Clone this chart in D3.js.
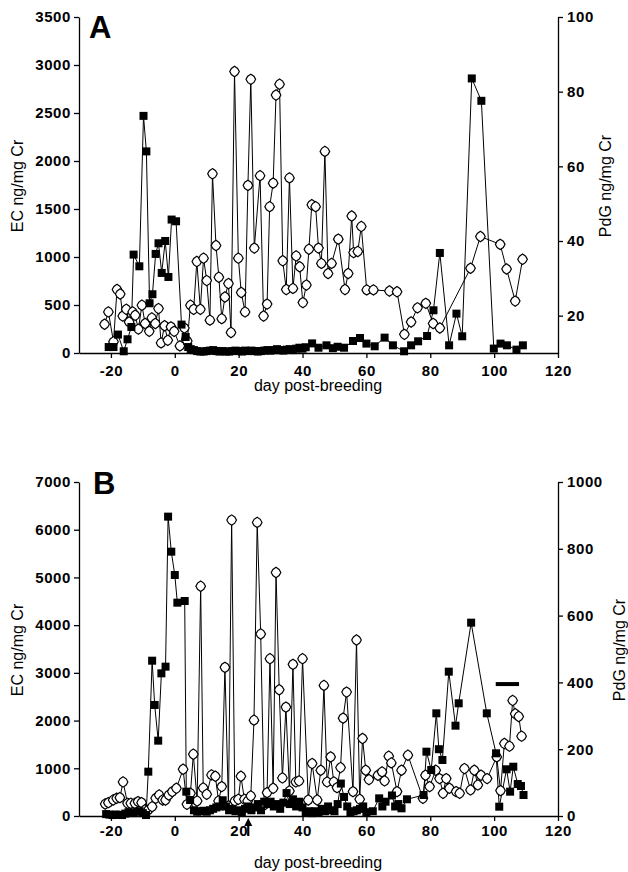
<!DOCTYPE html>
<html><head><meta charset="utf-8">
<script src="https://cdn.jsdelivr.net/npm/d3@7"></script>
<style>
html,body{margin:0;padding:0;background:#fff;}
svg{display:block;}
text{font-family:"Liberation Sans",Arial,sans-serif;fill:#000;}
</style></head><body>
<svg id="c" width="628" height="872"></svg>
<script>
// ---------- data ----------
const xTicks = [-20, 0, 20, 40, 60, 80, 100, 120];
const aEcTicks = [0, 500, 1000, 1500, 2000, 2500, 3000, 3500];
const aPdgTicks = [20, 40, 60, 80, 100];
const bEcTicks = [0, 1000, 2000, 3000, 4000, 5000, 6000, 7000];
const bPdgTicks = [0, 200, 400, 600, 800, 1000];

// Panel A: EC (filled squares, left axis) [day, ng/mg Cr]
const aEc = [[-20.7,62],[-19.2,62],[-17.8,192],[-16,18],[-14.8,143],[-13.6,271],[-12.9,1025],[-11.1,903],[-9.8,2470],[-8.9,2100],
 [-7.9,518],[-7,612],[-6,1032],[-5.1,1143],[-4.1,834],[-3,1167],[-2,792],[-1,1390],[0.4,1372],[2.1,296],[3.4,167],[4.2,62],
 [5,40],[6,30],[7,20],[8,15],[9,15],[10,20],[11,25],[12,30],[13,20],[14,15],[15,20],[16,15],[17,15],[18,20],[19,25],[20,20],
 [21,15],[22,25],[23,20],[24,25],[25,20],[26,15],[27,20],[28,25],[29,30],[30,25],[31,30],[32,40],[33,30],[34,25],[35,35],[36,40],
 [37,30],[38,45],[39,55],[40,45],[41,60],[43,100],[45,55],[47.5,80],[49.5,50],[51,65],[53,55],[55.8,125],[58,156],[60,98],
 [62.6,70],[65.7,160],[68.3,80],[71.8,18],[74,80],[76.2,122],[79,177],[81,445],[83,1042],[85.9,80],[88.2,410],[90,174],
 [93,2860],[96,2627],[99.9,46],[102,98],[104,80],[107,35],[109,80]];
// Panel A: PdG (open diamonds, right axis)
const aPdg = [[-22,17.7],[-20.8,21],[-19.2,13],[-18.1,27],[-17.1,25.8],[-16.3,19.9],[-15.2,21.7],[-14.3,18.3],[-13.2,21],[-12.4,20.1],
 [-11.4,16.4],[-10.3,22.8],[-9.3,17.9],[-8,15.8],[-7.2,19.4],[-6.1,17.9],[-5.1,21.9],[-4.3,12.7],[-3.2,17.3],[-2.2,13.4],[-1.2,17],
 [-0.2,15.8],[1.6,11.9],[3,16.7],[3.9,13.2],[4.9,22.8],[5.9,21.7],[6.9,34.5],[8,21.7],[9,35.4],[10,29.4],[11,18.8],[11.8,58],
 [12.9,38.8],[13.8,30.3],[14.7,19.2],[15.7,25],[16.8,28.6],[17.6,15.5],[18.7,85.4],[19.9,35.4],[20.8,26.2],[22,21],[22.9,54.9],
 [23.8,83.3],[24.9,38.1],[26.7,57.5],[27.8,19.9],[28.9,23.1],[29.7,49.2],[30.8,55.5],[31.7,79.1],[32.8,82],[33.8,34.7],[34.9,27],
 [35.9,56.9],[37,27.3],[38,36],[39.1,33.1],[40.1,23.5],[41.2,28.2],[42,37.8],[42.9,49.7],[44.1,49.2],[45,38.1],[45.9,34],[47,64],
 [48,31.3],[49.1,34],[51.2,40.5],[53.3,27],[54.3,31.3],[55.4,46.7],[56,36.9],[57.3,37.2],[58.4,43.9],[60.1,26.9],[62.2,26.9],
 [67.2,26.6],[69.6,26.4],[71.9,15],[74,18.3],[76,22.1],[78.6,23.3],[80.9,17.9],[83,16.7],[92.6,32.7],[95.7,41.2],[101.9,39.1],
 [103.9,32.5],[106.6,23.9],[108.9,35.1]];

// Panel B: EC (filled squares, left axis)
const bEc = [[-21.5,40],[-20.5,30],[-19.5,20],[-18.5,30],[-17.5,25],[-16.5,20],[-15.5,50],[-14.5,80],[-13,60],[-12,90],[-11,100],
 [-10,60],[-9,20],[-8.3,929],[-7.1,3255],[-6.3,2327],[-5.2,1579],[-4.2,2990],[-2.9,3130],[-2.1,6274],[-1.1,5540],[0,5051],
 [0.8,4471],[3.1,4506],[3.6,510],[4.8,335],[6,120],[7,90],[8,100],[9,110],[10,90],[11,120],[12,150],[13,180],[14,200],[15,330],
 [16,200],[17,120],[18,150],[19,100],[20,120],[21,80],[22,150],[23,200],[24,120],[25,180],[26,250],[27,120],[28,300],[29,250],
 [30,300],[31,200],[32,250],[33,150],[34,280],[35,480],[36,250],[37,350],[38,200],[39,300],[40,180],[41,80],[42,100],[43,60],
 [44,100],[45,80],[46,150],[47,100],[48,200],[49,120],[50,100],[51,250],[52,680],[53,400],[54,200],[55,80],[56,100],[57,120],
 [58,150],[59,200],[60,80],[62,100],[64,370],[65,200],[66,300],[68,430],[69,200],[70,250],[71,161],[72.7,350],[77.9,440],
 [78.8,1348],[80.3,964],[81.9,2152],[82.7,1400],[83.8,1174],[85.8,3025],[87.9,1893],[88.9,2362],[92.8,4052],[97.7,2152],
 [100.6,1314],[101.6,195],[103.9,979],[105,510],[106,1033],[107.4,670],[108.4,629],[109.2,440]];
// Panel B: PdG (open diamonds, right axis)
const bPdg = [[-21.8,36],[-20.8,40],[-19.3,48],[-18.2,53],[-17.2,55],[-16.2,102],[-14.8,38],[-13.8,38],[-12.5,38],[-11.5,43],
 [-10.4,40],[-9.4,18],[-8.3,18],[-7.1,28],[-6,53],[-4.9,63],[-3.8,48],[-2.9,48],[-1.9,63],[-0.8,73],[0.5,83],[2.6,140],[3.8,35],
 [4.9,68],[5.8,185],[7,45],[8.1,688],[8.9,84],[10,65],[11.5,123],[12.7,119],[13.7,45],[14.7,88],[15.7,445],[16.8,30],[17.8,886],
 [18.8,45],[19.9,50],[20.7,119],[21.8,50],[22.8,45],[23.8,60],[24.8,287],[25.8,879],[26.9,545],[28,33],[28.9,70],[29.8,471],
 [30.8,83],[31.7,729],[32.7,378],[33.7,114],[34.8,326],[35.9,75],[37,454],[37.9,102],[38.9,105],[40,471],[41.8,48],[43,157],
 [44.6,48],[45.7,137],[46.7,391],[47.7,102],[48.8,177],[49.8,102],[50.8,85],[51.9,145],[52.7,293],[53.8,371],[55.8,73],[56.9,527],
 [57.9,50],[58.8,232],[59.8,137],[60.8,109],[63.6,122],[64.9,132],[65.7,105],[67,179],[67.8,159],[69.6,73],[71,137],[73,182],
 [77.7,53],[78.5,122],[79.8,88],[81.7,137],[82.9,112],[84,68],[85,112],[86,83],[88.1,73],[89.2,68],[90.7,142],[92.6,78],
 [93.8,137],[94.9,93],[95.9,122],[97.8,112],[100.8,177],[102,76],[103.2,217],[104.8,209],[105.8,346],[106.6,306],[107.7,298],
 [108.6,239]];

const arrowDay = 23;           // arrow under panel B x-axis
const barDays = [100.5, 107.8]; // horizontal bar in panel B
const barLevel = 395;          // on PdG axis

// ---------- drawing ----------
const FONT = '"Liberation Sans", Arial, sans-serif';
const svg = d3.select("#c");
const x = d3.scaleLinear().domain([-30, 120]).range([79, 558]);
const diamond = "M0,-5.2L3.1,-3.1L4.8,0L3.1,3.1L0,5.2L-3.1,3.1L-4.8,0L-3.1,-3.1Z";
const plain = d => String(d);

function styleAxis(a) {
  a.attr("font-family", FONT).attr("font-size", 15).attr("font-weight", "bold");
  a.selectAll("path,line").attr("stroke", "#000").attr("stroke-width", 1.3);
  a.selectAll("text").attr("fill", "#000").style("letter-spacing", "0.6px");
}

function drawPanel(c) {
  const yL = d3.scaleLinear().domain(c.ecDomain).range([c.bottom, c.top]);
  const yR = d3.scaleLinear().domain(c.pdgDomain).range([c.bottom, c.top]);
  const g = svg.append("g");

  const line = ys => d3.line().x(d => x(d[0])).y(d => ys(d[1]));
  g.append("path").datum(c.pdg).attr("d", line(yR)).attr("fill", "none").attr("stroke", "#000").attr("stroke-width", 1);
  g.append("path").datum(c.ec).attr("d", line(yL)).attr("fill", "none").attr("stroke", "#000").attr("stroke-width", 1);

  const xa = g.append("g").attr("transform", `translate(0,${c.bottom})`)
    .call(d3.axisBottom(x).tickValues(xTicks).tickSize(5).tickSizeOuter(0).tickPadding(c.xPad).tickFormat(plain));
  const la = g.append("g").attr("transform", `translate(${x(-30)},0)`)
    .call(d3.axisLeft(yL).tickValues(c.ecTicks).tickSize(5).tickSizeOuter(0).tickPadding(3).tickFormat(plain));
  const ra = g.append("g").attr("transform", `translate(${x(120)},0)`)
    .call(d3.axisRight(yR).tickValues(c.pdgTicks).tickSize(5).tickSizeOuter(0).tickPadding(4).tickFormat(plain));
  [xa, la, ra].forEach(styleAxis);

  g.selectAll(".dm").data(c.pdg).join("path").attr("class", "dm").attr("d", diamond)
    .attr("transform", d => `translate(${x(d[0])},${yR(d[1])})`)
    .attr("fill", "#fff").attr("stroke", "#000").attr("stroke-width", 1.2);
  g.selectAll(".sq").data(c.ec).join("rect").attr("class", "sq")
    .attr("x", d => x(d[0]) - 4).attr("y", d => yL(d[1]) - 4).attr("width", 8).attr("height", 8).attr("fill", "#000");

  g.append("text").attr("x", c.letterX).attr("y", c.letterY).attr("font-size", 31).attr("font-weight", "bold")
    .attr("font-family", FONT).text(c.letter);
  g.append("text").attr("x", 318).attr("y", c.xTitleY).attr("text-anchor", "middle").attr("font-size", 16)
    .attr("font-family", FONT).text("day post-breeding");
  g.append("text").attr("transform", `translate(${c.lTitleX},${c.titleCY}) rotate(-90)`).attr("text-anchor", "middle")
    .attr("font-size", 16).attr("font-family", FONT).text("EC ng/mg Cr");
  g.append("text").attr("transform", `translate(${c.rTitleX},${c.titleCY}) rotate(-90)`).attr("text-anchor", "middle")
    .attr("font-size", 16).attr("font-family", FONT).text("PdG ng/mg Cr");
  return {g, yL, yR};
}

drawPanel({top: 17, bottom: 353, ecDomain: [0, 3500], pdgDomain: [10, 100], ecTicks: aEcTicks, pdgTicks: aPdgTicks,
  ec: aEc, pdg: aPdg, xPad: 7, letter: "A", letterX: 89, letterY: 38, xTitleY: 391, lTitleX: 23, rTitleX: 611, titleCY: 186});

const pB = drawPanel({top: 482, bottom: 816, ecDomain: [0, 7000], pdgDomain: [0, 1000], ecTicks: bEcTicks, pdgTicks: bPdgTicks,
  ec: bEc, pdg: bPdg, xPad: 4, letter: "B", letterX: 93, letterY: 494, xTitleY: 868, lTitleX: 23, rTitleX: 625, titleCY: 650});

// bar in panel B
pB.g.append("line").attr("x1", x(barDays[0])).attr("x2", x(barDays[1]))
  .attr("y1", pB.yR(barLevel)).attr("y2", pB.yR(barLevel)).attr("stroke", "#000").attr("stroke-width", 4);
// arrow in panel B
const ax = x(arrowDay);
pB.g.append("line").attr("x1", ax).attr("x2", ax).attr("y1", 836).attr("y2", 823).attr("stroke", "#000").attr("stroke-width", 2.2);
pB.g.append("path").attr("d", `M${ax},818L${ax - 4},826L${ax + 4},826Z`).attr("fill", "#000");
</script>
</body></html>
